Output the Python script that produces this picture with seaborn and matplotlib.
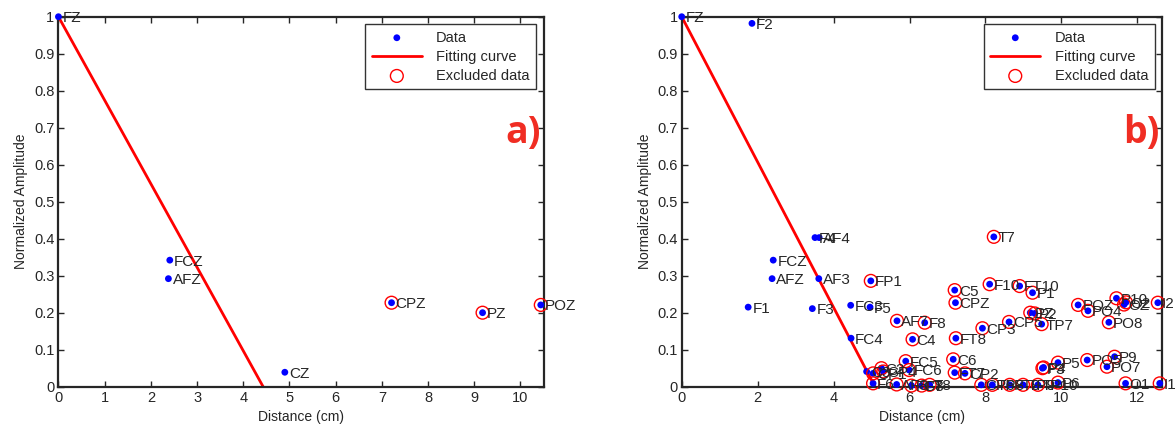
import matplotlib
matplotlib.use("Agg")
import matplotlib.pyplot as plt
import seaborn as sns
import pandas as pd

# ---------------- data ----------------
# Panel a
names_a = ["FZ", "FCZ", "AFZ", "CZ", "CPZ", "PZ", "POZ"]
dist_a = [0.0, 2.41, 2.38, 4.90, 7.21, 9.18, 10.44]
amp_a = [1.0, 0.342, 0.292, 0.039, 0.227, 0.200, 0.221]
excl_a = [False, False, False, False, True, True, True]
fit_a_x = [0.0, 4.43]
fit_a_y = [1.0, 0.0]

# Panel b
names_b = ["FZ", "F2", "F4", "AF4", "FCZ", "AFZ", "AF3", "F1", "F3", "FC3",
           "F5", "FC4", "C3", "FP1", "AF7", "F8", "C4", "T7", "C5", "F10",
           "FT10", "P1", "CPZ", "P10", "OZ", "O2", "I2", "POZ", "PO4", "PO8",
           "PZ", "P2", "CP5", "TP7", "CP3", "FT8", "FC5", "C6", "FC6", "FT7",
           "CP2", "P5", "P3", "P4", "PO5", "P9", "PO7", "O1", "I1", "CP1",
           "C2", "CP4", "F6", "AF8", "FC8", "F7", "T8", "CP6", "TP8", "FT9",
           "TP9", "TP10", "P6"]
dist_b = [0.0, 1.85, 3.51, 3.62, 2.41, 2.38, 3.61, 1.75, 3.44, 4.45,
          4.96, 4.46, 4.87, 4.98, 5.67, 6.40, 6.08, 8.22, 7.19, 8.11,
          8.90, 9.24, 7.21, 11.45, 11.65, 11.70, 12.54, 10.44, 10.70, 11.25,
          9.18, 9.30, 8.62, 9.48, 7.92, 7.22, 5.90, 7.15, 5.99, 7.19,
          7.46, 9.91, 9.50, 9.53, 10.68, 11.40, 11.20, 11.69, 12.59, 5.04,
          5.26, 5.31, 5.04, 5.66, 6.05, 6.32, 6.53, 7.89, 8.18, 8.64,
          8.99, 9.38, 9.91]
amp_b = [1.0, 0.982, 0.403, 0.403, 0.342, 0.292, 0.292, 0.215, 0.211, 0.220,
         0.215, 0.131, 0.041, 0.286, 0.178, 0.173, 0.128, 0.405, 0.261, 0.277,
         0.272, 0.254, 0.227, 0.239, 0.222, 0.228, 0.227, 0.221, 0.205, 0.174,
         0.200, 0.198, 0.175, 0.169, 0.158, 0.131, 0.069, 0.074, 0.045, 0.038,
         0.036, 0.065, 0.050, 0.052, 0.072, 0.081, 0.054, 0.009, 0.009, 0.036,
         0.050, 0.041, 0.009, 0.006, 0.003, 0.003, 0.005, 0.005, 0.005, 0.005,
         0.005, 0.005, 0.011]
n_incl_b = 13  # first 13 points are kept (not excluded)
excl_b = [i >= n_incl_b for i in range(len(names_b))]
fit_b_x = [0.0, 5.09]
fit_b_y = [1.0, 0.0]

panel_letters = ["a)", "b)"]
xlims = [(0, 10.5), (0, 12.65)]
xticks = [list(range(0, 11)), list(range(0, 13, 2))]
yticks = [round(0.1 * i, 1) for i in range(11)]
ytick_labels = ["0", "0.1", "0.2", "0.3", "0.4", "0.5", "0.6", "0.7", "0.8", "0.9", "1"]

# ---------------- style ----------------
sns.set_style("ticks")
plt.rcParams["font.family"] = ["Liberation Sans", "DejaVu Sans"]

fig = plt.figure(figsize=(11.76, 4.32), dpi=100)
axes = [fig.add_axes([0.0497, 0.1049, 0.4125, 0.8564]),
        fig.add_axes([0.5797, 0.1049, 0.4084, 0.8564])]

panels = [
    (names_a, dist_a, amp_a, excl_a, fit_a_x, fit_a_y),
    (names_b, dist_b, amp_b, excl_b, fit_b_x, fit_b_y),
]

for k, (ax, (nm, dx, am, ex, fx, fy)) in enumerate(zip(axes, panels)):
    df = pd.DataFrame({"name": nm, "dist": dx, "amp": am, "excl": ex})
    dfe = df[df["excl"]]
    fit = pd.DataFrame({"x": fx, "y": fy})

    sns.scatterplot(data=df, x="dist", y="amp", ax=ax, color="#0000ff",
                    s=24, edgecolor="none", label="Data", zorder=3, clip_on=False)
    sns.lineplot(data=fit, x="x", y="y", ax=ax, color="#ff0000", lw=2,
                 label="Fitting curve", zorder=2, sort=False)
    sns.scatterplot(data=dfe, x="dist", y="amp", ax=ax, marker="o",
                    facecolor="none", edgecolor="#ff0000", linewidth=1.0,
                    s=85, label="Excluded data", zorder=4, clip_on=False)

    for _, r in df.iterrows():
        ax.annotate(r["name"], (r["dist"], r["amp"]), xytext=(3, -1),
                    textcoords="offset points", fontsize=11,
                    ha="left", va="center", zorder=5, annotation_clip=False)

    ax.set_xlim(*xlims[k])
    ax.set_ylim(0, 1)
    ax.set_xticks(xticks[k])
    ax.set_yticks(yticks)
    ax.set_yticklabels(ytick_labels)
    ax.set_xlabel("Distance (cm)", fontsize=10, labelpad=4)
    ax.set_ylabel("Normalized Amplitude", fontsize=10, labelpad=4)
    ax.tick_params(direction="in", top=True, right=True, length=4,
                   width=1, labelsize=10.5, pad=3)
    for sp in ax.spines.values():
        sp.set_linewidth(1.6)
        sp.set_visible(True)

    leg = ax.legend(loc="upper right", fontsize=10.5, frameon=True, fancybox=False,
                    edgecolor="black", handlelength=3.4, borderaxespad=0.5,
                    labelspacing=0.35, borderpad=0.45, handletextpad=1.0)
    leg.get_frame().set_linewidth(1.0)

    ax.text(0.995, 0.685, panel_letters[k], transform=ax.transAxes,
            ha="right", va="center", fontsize=27, fontweight="bold",
            color="#f02d23", family=["Open Sans", "DejaVu Sans"])

fig.savefig("out.png", dpi=100)
